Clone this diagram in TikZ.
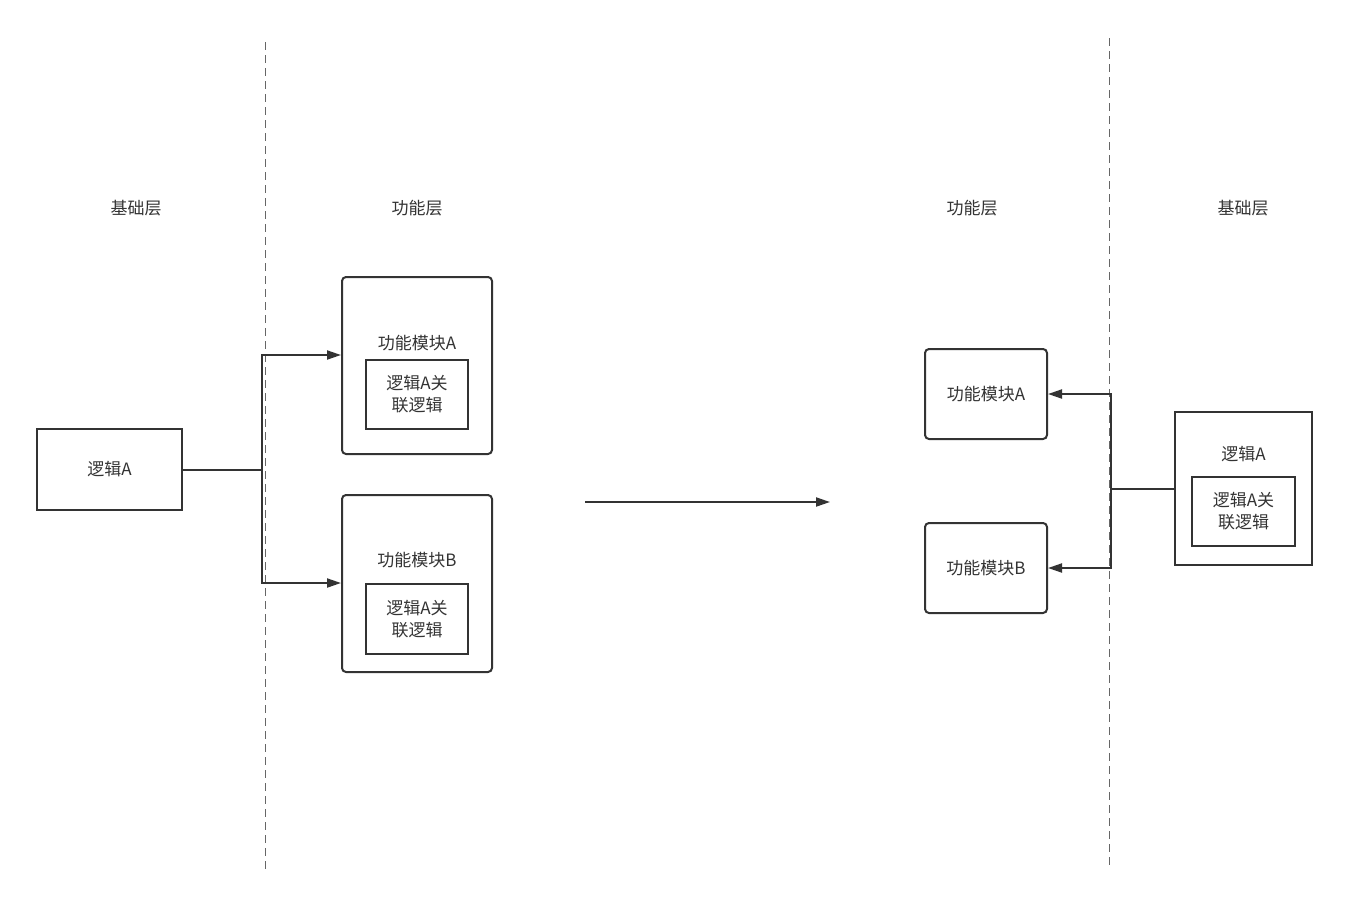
\documentclass[tikz,border=0pt]{standalone}
\usepackage{fontspec}
\setmainfont{Noto Sans CJK SC}
\usetikzlibrary{arrows.meta}
\definecolor{ink}{HTML}{333333}
\begin{document}
\begin{tikzpicture}[x=1pt,y=-1pt,line width=2pt,draw=ink,text=ink,font=\fontsize{17}{22}\selectfont]
        \tikzstyle{sharpbox}=[draw,inner sep=0pt]
        \tikzstyle{roundbox}=[draw,rounded corners=4pt,inner sep=0pt]
        \tikzstyle{layer}=[inner sep=0pt]
        \tikzstyle{divider}=[dashed,dash pattern=on 8pt off 5pt,line width=1pt,draw=black!60]
        \tikzstyle{link}=[-{Triangle[length=14pt,width=9pt]}]
        \useasboundingbox (0,0) rectangle (1356,918);

        % Layer dividers and titles
        \draw[divider] (265,42) -- (265,872);
        \draw[divider] (1109,38) -- (1109,868);
        \node[layer] (base-l) at (136,208) {基础层};
        \node[layer] (func-l) at (417,208) {功能层};
        \node[layer] (func-r) at (972,208) {功能层};
        \node[layer] (base-r) at (1243,208) {基础层};

        % Left side: before
        \node[sharpbox,minimum width=145pt,minimum height=81pt] (logicA) at (109.5,469.5) {逻辑A};
        \foreach \id / \y in {A/365.5, B/583.5}
            \node[roundbox,minimum width=150pt,minimum height=177pt] (mod\id) at (417,\y) {};
        \node[layer] (modA-t) at (417,343) {功能模块A};
        \node[layer] (modB-t) at (417,560) {功能模块B};
        \node[sharpbox,minimum width=102pt,minimum height=69pt,align=center] (relA) at (417,394.5) {逻辑A关\\联逻辑};
        \node[sharpbox,minimum width=102pt,minimum height=70pt,align=center] (relB) at (417,619) {逻辑A关\\联逻辑};
        \coordinate (split-l) at (262,469.5);
        \draw (logicA.east) -- (split-l);
        \draw[link] (split-l) |- (modA.west |- 0,355);
        \draw[link] (split-l) |- (modB.west |- 0,583);

        % Transition arrow
        \coordinate (mid-s) at (585,502);
        \coordinate (mid-e) at (830,502);
        \draw[link] (mid-s) -- (mid-e);

        % Right side: after
        \node[roundbox,minimum width=122pt,minimum height=90pt] (modA2) at (986,394) {功能模块A};
        \node[roundbox,minimum width=122pt,minimum height=90pt] (modB2) at (986,568) {功能模块B};
        \node[sharpbox,minimum width=137pt,minimum height=153pt] (logicA2) at (1243.5,488.5) {};
        \node[layer] (logicA2-t) at (1243.5,454) {逻辑A};
        \node[sharpbox,minimum width=103pt,minimum height=69pt,align=center] (relC) at (1243.5,511.5) {逻辑A关\\联逻辑};
        \coordinate (split-r) at (1111,489);
        \draw (logicA2.west |- split-r) -- (split-r);
        \draw[link] (split-r) |- (modA2.east);
        \draw[link] (split-r) |- (modB2.east);
    \end{tikzpicture}
\end{document}
